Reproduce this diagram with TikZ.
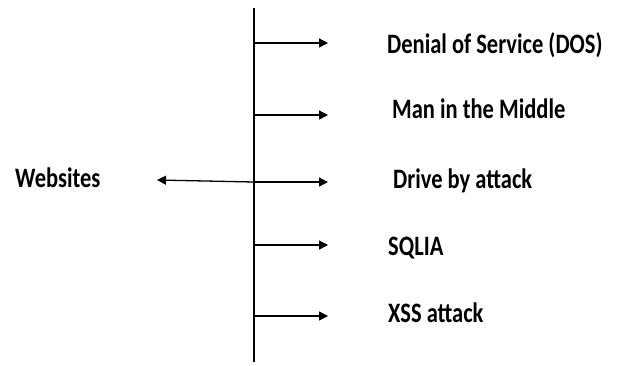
\documentclass[tikz,border=0pt]{standalone}
\usepackage{fontspec}
\setmainfont{Carlito}
\usetikzlibrary{arrows.meta}
\tikzset{lbl/.style = {font=\bfseries\fontsize{22.5}{26}\selectfont, anchor=base west, inner sep=0, yscale=1.25}}
\tikzset{spoke/.style = {line width=1.3pt, -{Triangle[length=9pt, width=9pt]}}}

\begin{document}
\begin{tikzpicture}[x=1pt, y=-1pt]
  \useasboundingbox (0, 0) rectangle (620, 365);

  % the spine
  \coordinate (top) at (254, 8);
  \coordinate (bot) at (254, 362);
  \draw [line width=2.8pt] (top) -- (bot);

  % attacks on the right
  \foreach \y/\ty/\tx/\name/\txt in {43/53/387/dos/Denial of Service (DOS),
      115/118/392/mitm/Man in the Middle,
      182/188/393/drive/Drive by attack,
      245/255/388/sqlia/SQLIA,
      316/322/388/xss/XSS attack} {
    \coordinate (s-\name) at (254, \y);
    \coordinate (e-\name) at (328, \y);
    \draw [spoke] (s-\name) -- (e-\name);
    \node [lbl] (l-\name) at (\tx, \ty) {\txt};
  }

  % target on the left
  \coordinate (w-end) at (157, 180);
  \draw [spoke] (s-drive) -- (w-end);
  \node [lbl] (web) at (15, 187) {Websites};
\end{tikzpicture}
\end{document}
